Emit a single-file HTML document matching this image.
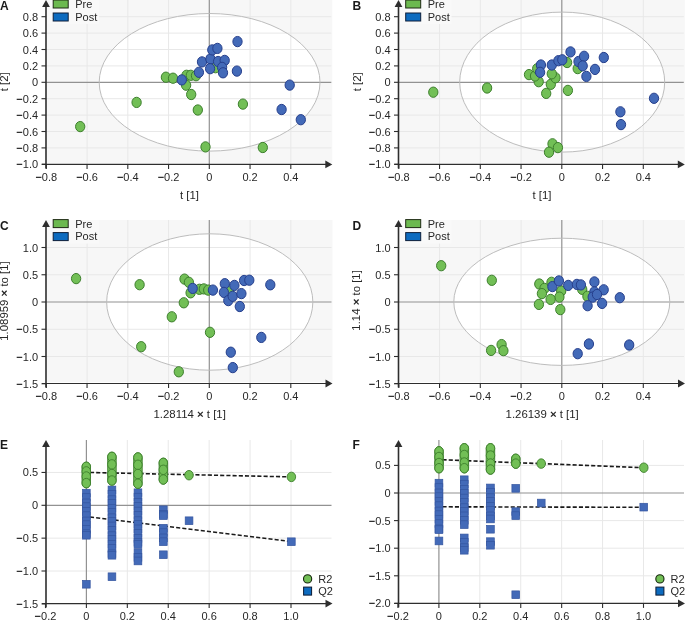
<!DOCTYPE html>
<html><head><meta charset="utf-8"><style>
html,body{margin:0;padding:0;background:#fff;width:685px;height:620px;overflow:hidden;}
svg{display:block;will-change:transform;}
text{font-family:"Liberation Sans", sans-serif;}
</style></head><body>
<svg width="685" height="620" viewBox="0 0 685 620" font-family='"Liberation Sans", sans-serif'>
<rect width="685" height="620" fill="#ffffff"/>
<rect x="47.2" y="0.0" width="285.10" height="162.90" fill="#f7f7f7"/>
<ellipse cx="209.60" cy="82.30" rx="110.4" ry="68.8" fill="#ffffff"/>
<line x1="87.05" y1="0.0" x2="87.05" y2="164.4" stroke="#e8e8e8" stroke-width="1"/>
<line x1="127.80" y1="0.0" x2="127.80" y2="164.4" stroke="#e8e8e8" stroke-width="1"/>
<line x1="168.55" y1="0.0" x2="168.55" y2="164.4" stroke="#e8e8e8" stroke-width="1"/>
<line x1="250.05" y1="0.0" x2="250.05" y2="164.4" stroke="#e8e8e8" stroke-width="1"/>
<line x1="290.80" y1="0.0" x2="290.80" y2="164.4" stroke="#e8e8e8" stroke-width="1"/>
<line x1="46.0" y1="147.90" x2="331.3" y2="147.90" stroke="#e8e8e8" stroke-width="1"/>
<line x1="46.0" y1="131.50" x2="331.3" y2="131.50" stroke="#e8e8e8" stroke-width="1"/>
<line x1="46.0" y1="115.10" x2="331.3" y2="115.10" stroke="#e8e8e8" stroke-width="1"/>
<line x1="46.0" y1="98.70" x2="331.3" y2="98.70" stroke="#e8e8e8" stroke-width="1"/>
<line x1="46.0" y1="65.90" x2="331.3" y2="65.90" stroke="#e8e8e8" stroke-width="1"/>
<line x1="46.0" y1="49.50" x2="331.3" y2="49.50" stroke="#e8e8e8" stroke-width="1"/>
<line x1="46.0" y1="33.10" x2="331.3" y2="33.10" stroke="#e8e8e8" stroke-width="1"/>
<line x1="46.0" y1="16.70" x2="331.3" y2="16.70" stroke="#e8e8e8" stroke-width="1"/>
<line x1="209.30" y1="0.0" x2="209.30" y2="164.4" stroke="#929292" stroke-width="1.2"/>
<line x1="46.0" y1="82.30" x2="331.3" y2="82.30" stroke="#929292" stroke-width="1.2"/>
<ellipse cx="209.60" cy="82.30" rx="110.4" ry="68.8" fill="none" stroke="#bdbdbd" stroke-width="1"/>
<rect x="47.0" y="0.0" width="52.00" height="24.00" fill="#f9f9f9"/>
<ellipse cx="80.2" cy="126.6" rx="4.65" ry="5.15" fill="#72bf56" stroke="#3d7f2d" stroke-width="1.0"/>
<ellipse cx="136.6" cy="102.4" rx="4.65" ry="5.15" fill="#72bf56" stroke="#3d7f2d" stroke-width="1.0"/>
<ellipse cx="165.9" cy="77.2" rx="4.65" ry="5.15" fill="#72bf56" stroke="#3d7f2d" stroke-width="1.0"/>
<ellipse cx="173.0" cy="78.2" rx="4.65" ry="5.15" fill="#72bf56" stroke="#3d7f2d" stroke-width="1.0"/>
<ellipse cx="186.5" cy="75.3" rx="4.65" ry="5.15" fill="#72bf56" stroke="#3d7f2d" stroke-width="1.0"/>
<ellipse cx="190.8" cy="75.3" rx="4.65" ry="5.15" fill="#72bf56" stroke="#3d7f2d" stroke-width="1.0"/>
<ellipse cx="196.0" cy="75.7" rx="4.65" ry="5.15" fill="#72bf56" stroke="#3d7f2d" stroke-width="1.0"/>
<ellipse cx="186.1" cy="85.2" rx="4.65" ry="5.15" fill="#72bf56" stroke="#3d7f2d" stroke-width="1.0"/>
<ellipse cx="191.2" cy="94.5" rx="4.65" ry="5.15" fill="#72bf56" stroke="#3d7f2d" stroke-width="1.0"/>
<ellipse cx="197.8" cy="110.0" rx="4.65" ry="5.15" fill="#72bf56" stroke="#3d7f2d" stroke-width="1.0"/>
<ellipse cx="205.5" cy="146.9" rx="4.65" ry="5.15" fill="#72bf56" stroke="#3d7f2d" stroke-width="1.0"/>
<ellipse cx="262.8" cy="147.5" rx="4.65" ry="5.15" fill="#72bf56" stroke="#3d7f2d" stroke-width="1.0"/>
<ellipse cx="242.9" cy="104.1" rx="4.65" ry="5.15" fill="#72bf56" stroke="#3d7f2d" stroke-width="1.0"/>
<ellipse cx="215.5" cy="67.7" rx="4.65" ry="5.15" fill="#72bf56" stroke="#3d7f2d" stroke-width="1.0"/>
<ellipse cx="181.8" cy="79.9" rx="4.65" ry="5.15" fill="#436ab8" stroke="#263f8c" stroke-width="1.0"/>
<ellipse cx="198.9" cy="72.3" rx="4.65" ry="5.15" fill="#436ab8" stroke="#263f8c" stroke-width="1.0"/>
<ellipse cx="202.0" cy="61.9" rx="4.65" ry="5.15" fill="#436ab8" stroke="#263f8c" stroke-width="1.0"/>
<ellipse cx="210.4" cy="59.0" rx="4.65" ry="5.15" fill="#436ab8" stroke="#263f8c" stroke-width="1.0"/>
<ellipse cx="210.1" cy="68.7" rx="4.65" ry="5.15" fill="#436ab8" stroke="#263f8c" stroke-width="1.0"/>
<ellipse cx="212.3" cy="49.9" rx="4.65" ry="5.15" fill="#436ab8" stroke="#263f8c" stroke-width="1.0"/>
<ellipse cx="217.4" cy="48.4" rx="4.65" ry="5.15" fill="#436ab8" stroke="#263f8c" stroke-width="1.0"/>
<ellipse cx="218.1" cy="61.5" rx="4.65" ry="5.15" fill="#436ab8" stroke="#263f8c" stroke-width="1.0"/>
<ellipse cx="224.7" cy="60.4" rx="4.65" ry="5.15" fill="#436ab8" stroke="#263f8c" stroke-width="1.0"/>
<ellipse cx="222.1" cy="67.4" rx="4.65" ry="5.15" fill="#436ab8" stroke="#263f8c" stroke-width="1.0"/>
<ellipse cx="223.0" cy="72.8" rx="4.65" ry="5.15" fill="#436ab8" stroke="#263f8c" stroke-width="1.0"/>
<ellipse cx="237.5" cy="41.6" rx="4.65" ry="5.15" fill="#436ab8" stroke="#263f8c" stroke-width="1.0"/>
<ellipse cx="236.9" cy="71.1" rx="4.65" ry="5.15" fill="#436ab8" stroke="#263f8c" stroke-width="1.0"/>
<ellipse cx="289.7" cy="85.1" rx="4.65" ry="5.15" fill="#436ab8" stroke="#263f8c" stroke-width="1.0"/>
<ellipse cx="281.6" cy="109.5" rx="4.65" ry="5.15" fill="#436ab8" stroke="#263f8c" stroke-width="1.0"/>
<ellipse cx="300.8" cy="119.7" rx="4.65" ry="5.15" fill="#436ab8" stroke="#263f8c" stroke-width="1.0"/>
<line x1="46.0" y1="5.0" x2="46.0" y2="168.4" stroke="#2e2e2e" stroke-width="1.6"/>
<path d="M42.1,7.0 L46.0,0.0 L49.9,7.0 Z" fill="#2e2e2e"/>
<line x1="42.0" y1="164.4" x2="327.3" y2="164.4" stroke="#2e2e2e" stroke-width="1.2"/>
<path d="M325.3,160.5 L332.3,164.4 L325.3,168.3 Z" fill="#2e2e2e"/>
<line x1="41.5" y1="164.30" x2="46.0" y2="164.30" stroke="#2e2e2e" stroke-width="1.1"/>
<text x="38.10" y="168.30" font-size="11" text-anchor="end" font-weight="normal" fill="#272727" ><tspan font-weight="bold">−</tspan>1.0</text>
<line x1="41.5" y1="147.90" x2="46.0" y2="147.90" stroke="#2e2e2e" stroke-width="1.1"/>
<text x="38.10" y="151.90" font-size="11" text-anchor="end" font-weight="normal" fill="#272727" ><tspan font-weight="bold">−</tspan>0.8</text>
<line x1="41.5" y1="131.50" x2="46.0" y2="131.50" stroke="#2e2e2e" stroke-width="1.1"/>
<text x="38.10" y="135.50" font-size="11" text-anchor="end" font-weight="normal" fill="#272727" ><tspan font-weight="bold">−</tspan>0.6</text>
<line x1="41.5" y1="115.10" x2="46.0" y2="115.10" stroke="#2e2e2e" stroke-width="1.1"/>
<text x="38.10" y="119.10" font-size="11" text-anchor="end" font-weight="normal" fill="#272727" ><tspan font-weight="bold">−</tspan>0.4</text>
<line x1="41.5" y1="98.70" x2="46.0" y2="98.70" stroke="#2e2e2e" stroke-width="1.1"/>
<text x="38.10" y="102.70" font-size="11" text-anchor="end" font-weight="normal" fill="#272727" ><tspan font-weight="bold">−</tspan>0.2</text>
<line x1="41.5" y1="82.30" x2="46.0" y2="82.30" stroke="#2e2e2e" stroke-width="1.1"/>
<text x="38.10" y="86.30" font-size="11" text-anchor="end" font-weight="normal" fill="#272727" >0</text>
<line x1="41.5" y1="65.90" x2="46.0" y2="65.90" stroke="#2e2e2e" stroke-width="1.1"/>
<text x="38.10" y="69.90" font-size="11" text-anchor="end" font-weight="normal" fill="#272727" >0.2</text>
<line x1="41.5" y1="49.50" x2="46.0" y2="49.50" stroke="#2e2e2e" stroke-width="1.1"/>
<text x="38.10" y="53.50" font-size="11" text-anchor="end" font-weight="normal" fill="#272727" >0.4</text>
<line x1="41.5" y1="33.10" x2="46.0" y2="33.10" stroke="#2e2e2e" stroke-width="1.1"/>
<text x="38.10" y="37.10" font-size="11" text-anchor="end" font-weight="normal" fill="#272727" >0.6</text>
<line x1="41.5" y1="16.70" x2="46.0" y2="16.70" stroke="#2e2e2e" stroke-width="1.1"/>
<text x="38.10" y="20.70" font-size="11" text-anchor="end" font-weight="normal" fill="#272727" >0.8</text>
<line x1="46.30" y1="164.4" x2="46.30" y2="168.9" stroke="#2e2e2e" stroke-width="1.1"/>
<text x="46.30" y="180.50" font-size="11" text-anchor="middle" font-weight="normal" fill="#272727" ><tspan font-weight="bold">−</tspan>0.8</text>
<line x1="87.05" y1="164.4" x2="87.05" y2="168.9" stroke="#2e2e2e" stroke-width="1.1"/>
<text x="87.05" y="180.50" font-size="11" text-anchor="middle" font-weight="normal" fill="#272727" ><tspan font-weight="bold">−</tspan>0.6</text>
<line x1="127.80" y1="164.4" x2="127.80" y2="168.9" stroke="#2e2e2e" stroke-width="1.1"/>
<text x="127.80" y="180.50" font-size="11" text-anchor="middle" font-weight="normal" fill="#272727" ><tspan font-weight="bold">−</tspan>0.4</text>
<line x1="168.55" y1="164.4" x2="168.55" y2="168.9" stroke="#2e2e2e" stroke-width="1.1"/>
<text x="168.55" y="180.50" font-size="11" text-anchor="middle" font-weight="normal" fill="#272727" ><tspan font-weight="bold">−</tspan>0.2</text>
<line x1="209.30" y1="164.4" x2="209.30" y2="168.9" stroke="#2e2e2e" stroke-width="1.1"/>
<text x="209.30" y="180.50" font-size="11" text-anchor="middle" font-weight="normal" fill="#272727" >0</text>
<line x1="250.05" y1="164.4" x2="250.05" y2="168.9" stroke="#2e2e2e" stroke-width="1.1"/>
<text x="250.05" y="180.50" font-size="11" text-anchor="middle" font-weight="normal" fill="#272727" >0.2</text>
<line x1="290.80" y1="164.4" x2="290.80" y2="168.9" stroke="#2e2e2e" stroke-width="1.1"/>
<text x="290.80" y="180.50" font-size="11" text-anchor="middle" font-weight="normal" fill="#272727" >0.4</text>
<rect x="53.2" y="0.0" width="15" height="8" fill="#6cb94f" stroke="#1e2a14" stroke-width="1"/>
<rect x="53.2" y="13.0" width="15" height="8" fill="#0d6bbf" stroke="#0e1f3a" stroke-width="1"/>
<text x="75.20" y="7.90" font-size="11" text-anchor="start" font-weight="normal" fill="#272727" >Pre</text>
<text x="75.20" y="20.60" font-size="11" text-anchor="start" font-weight="normal" fill="#272727" >Post</text>
<text x="0.00" y="9.90" font-size="12" text-anchor="start" font-weight="bold" fill="#1a1a1a" >A</text>
<text x="189.50" y="198.50" font-size="11.4" text-anchor="middle" font-weight="normal" fill="#272727" >t [1]</text>
<text x="8.4" y="81.8" font-size="11.4" text-anchor="middle" fill="#272727" transform="rotate(-90 8.4 81.8)">t [2]</text>
<rect x="399.7" y="0.0" width="285.10" height="162.90" fill="#f7f7f7"/>
<ellipse cx="562.20" cy="82.10" rx="102.5" ry="70.0" fill="#ffffff"/>
<line x1="439.55" y1="0.0" x2="439.55" y2="164.4" stroke="#e8e8e8" stroke-width="1"/>
<line x1="480.30" y1="0.0" x2="480.30" y2="164.4" stroke="#e8e8e8" stroke-width="1"/>
<line x1="521.05" y1="0.0" x2="521.05" y2="164.4" stroke="#e8e8e8" stroke-width="1"/>
<line x1="602.55" y1="0.0" x2="602.55" y2="164.4" stroke="#e8e8e8" stroke-width="1"/>
<line x1="643.30" y1="0.0" x2="643.30" y2="164.4" stroke="#e8e8e8" stroke-width="1"/>
<line x1="398.5" y1="147.90" x2="683.8" y2="147.90" stroke="#e8e8e8" stroke-width="1"/>
<line x1="398.5" y1="131.50" x2="683.8" y2="131.50" stroke="#e8e8e8" stroke-width="1"/>
<line x1="398.5" y1="115.10" x2="683.8" y2="115.10" stroke="#e8e8e8" stroke-width="1"/>
<line x1="398.5" y1="98.70" x2="683.8" y2="98.70" stroke="#e8e8e8" stroke-width="1"/>
<line x1="398.5" y1="65.90" x2="683.8" y2="65.90" stroke="#e8e8e8" stroke-width="1"/>
<line x1="398.5" y1="49.50" x2="683.8" y2="49.50" stroke="#e8e8e8" stroke-width="1"/>
<line x1="398.5" y1="33.10" x2="683.8" y2="33.10" stroke="#e8e8e8" stroke-width="1"/>
<line x1="398.5" y1="16.70" x2="683.8" y2="16.70" stroke="#e8e8e8" stroke-width="1"/>
<line x1="561.80" y1="0.0" x2="561.80" y2="164.4" stroke="#929292" stroke-width="1.2"/>
<line x1="398.5" y1="82.30" x2="683.8" y2="82.30" stroke="#929292" stroke-width="1.2"/>
<ellipse cx="562.20" cy="82.10" rx="102.5" ry="70.0" fill="none" stroke="#bdbdbd" stroke-width="1"/>
<rect x="399.5" y="0.0" width="52.00" height="24.00" fill="#f9f9f9"/>
<ellipse cx="433.3" cy="92.2" rx="4.65" ry="5.15" fill="#72bf56" stroke="#3d7f2d" stroke-width="1.0"/>
<ellipse cx="487.1" cy="88.0" rx="4.65" ry="5.15" fill="#72bf56" stroke="#3d7f2d" stroke-width="1.0"/>
<ellipse cx="552.5" cy="143.8" rx="4.65" ry="5.15" fill="#72bf56" stroke="#3d7f2d" stroke-width="1.0"/>
<ellipse cx="557.9" cy="147.6" rx="4.65" ry="5.15" fill="#72bf56" stroke="#3d7f2d" stroke-width="1.0"/>
<ellipse cx="549.0" cy="152.2" rx="4.65" ry="5.15" fill="#72bf56" stroke="#3d7f2d" stroke-width="1.0"/>
<ellipse cx="546.2" cy="93.4" rx="4.65" ry="5.15" fill="#72bf56" stroke="#3d7f2d" stroke-width="1.0"/>
<ellipse cx="567.9" cy="90.4" rx="4.65" ry="5.15" fill="#72bf56" stroke="#3d7f2d" stroke-width="1.0"/>
<ellipse cx="538.7" cy="81.7" rx="4.65" ry="5.15" fill="#72bf56" stroke="#3d7f2d" stroke-width="1.0"/>
<ellipse cx="529.0" cy="74.6" rx="4.65" ry="5.15" fill="#72bf56" stroke="#3d7f2d" stroke-width="1.0"/>
<ellipse cx="535.0" cy="76.0" rx="4.65" ry="5.15" fill="#72bf56" stroke="#3d7f2d" stroke-width="1.0"/>
<ellipse cx="550.8" cy="84.3" rx="4.65" ry="5.15" fill="#72bf56" stroke="#3d7f2d" stroke-width="1.0"/>
<ellipse cx="555.5" cy="77.8" rx="4.65" ry="5.15" fill="#72bf56" stroke="#3d7f2d" stroke-width="1.0"/>
<ellipse cx="551.8" cy="73.8" rx="4.65" ry="5.15" fill="#72bf56" stroke="#3d7f2d" stroke-width="1.0"/>
<ellipse cx="537.2" cy="68.7" rx="4.65" ry="5.15" fill="#72bf56" stroke="#3d7f2d" stroke-width="1.0"/>
<ellipse cx="567.1" cy="62.5" rx="4.65" ry="5.15" fill="#72bf56" stroke="#3d7f2d" stroke-width="1.0"/>
<ellipse cx="577.7" cy="68.6" rx="4.65" ry="5.15" fill="#72bf56" stroke="#3d7f2d" stroke-width="1.0"/>
<ellipse cx="540.9" cy="65.0" rx="4.65" ry="5.15" fill="#436ab8" stroke="#263f8c" stroke-width="1.0"/>
<ellipse cx="540.1" cy="72.3" rx="4.65" ry="5.15" fill="#436ab8" stroke="#263f8c" stroke-width="1.0"/>
<ellipse cx="551.8" cy="65.0" rx="4.65" ry="5.15" fill="#436ab8" stroke="#263f8c" stroke-width="1.0"/>
<ellipse cx="558.4" cy="60.7" rx="4.65" ry="5.15" fill="#436ab8" stroke="#263f8c" stroke-width="1.0"/>
<ellipse cx="562.3" cy="59.8" rx="4.65" ry="5.15" fill="#436ab8" stroke="#263f8c" stroke-width="1.0"/>
<ellipse cx="570.5" cy="51.9" rx="4.65" ry="5.15" fill="#436ab8" stroke="#263f8c" stroke-width="1.0"/>
<ellipse cx="578.5" cy="61.5" rx="4.65" ry="5.15" fill="#436ab8" stroke="#263f8c" stroke-width="1.0"/>
<ellipse cx="584.1" cy="56.3" rx="4.65" ry="5.15" fill="#436ab8" stroke="#263f8c" stroke-width="1.0"/>
<ellipse cx="582.7" cy="65.9" rx="4.65" ry="5.15" fill="#436ab8" stroke="#263f8c" stroke-width="1.0"/>
<ellipse cx="586.4" cy="76.4" rx="4.65" ry="5.15" fill="#436ab8" stroke="#263f8c" stroke-width="1.0"/>
<ellipse cx="595.0" cy="69.4" rx="4.65" ry="5.15" fill="#436ab8" stroke="#263f8c" stroke-width="1.0"/>
<ellipse cx="603.8" cy="57.5" rx="4.65" ry="5.15" fill="#436ab8" stroke="#263f8c" stroke-width="1.0"/>
<ellipse cx="654.0" cy="98.3" rx="4.65" ry="5.15" fill="#436ab8" stroke="#263f8c" stroke-width="1.0"/>
<ellipse cx="620.4" cy="111.8" rx="4.65" ry="5.15" fill="#436ab8" stroke="#263f8c" stroke-width="1.0"/>
<ellipse cx="621.0" cy="124.6" rx="4.65" ry="5.15" fill="#436ab8" stroke="#263f8c" stroke-width="1.0"/>
<line x1="398.5" y1="5.0" x2="398.5" y2="168.4" stroke="#2e2e2e" stroke-width="1.6"/>
<path d="M394.6,7.0 L398.5,0.0 L402.4,7.0 Z" fill="#2e2e2e"/>
<line x1="394.5" y1="164.4" x2="679.8" y2="164.4" stroke="#2e2e2e" stroke-width="1.2"/>
<path d="M677.8,160.5 L684.8,164.4 L677.8,168.3 Z" fill="#2e2e2e"/>
<line x1="394.0" y1="164.30" x2="398.5" y2="164.30" stroke="#2e2e2e" stroke-width="1.1"/>
<text x="390.60" y="168.30" font-size="11" text-anchor="end" font-weight="normal" fill="#272727" ><tspan font-weight="bold">−</tspan>1.0</text>
<line x1="394.0" y1="147.90" x2="398.5" y2="147.90" stroke="#2e2e2e" stroke-width="1.1"/>
<text x="390.60" y="151.90" font-size="11" text-anchor="end" font-weight="normal" fill="#272727" ><tspan font-weight="bold">−</tspan>0.8</text>
<line x1="394.0" y1="131.50" x2="398.5" y2="131.50" stroke="#2e2e2e" stroke-width="1.1"/>
<text x="390.60" y="135.50" font-size="11" text-anchor="end" font-weight="normal" fill="#272727" ><tspan font-weight="bold">−</tspan>0.6</text>
<line x1="394.0" y1="115.10" x2="398.5" y2="115.10" stroke="#2e2e2e" stroke-width="1.1"/>
<text x="390.60" y="119.10" font-size="11" text-anchor="end" font-weight="normal" fill="#272727" ><tspan font-weight="bold">−</tspan>0.4</text>
<line x1="394.0" y1="98.70" x2="398.5" y2="98.70" stroke="#2e2e2e" stroke-width="1.1"/>
<text x="390.60" y="102.70" font-size="11" text-anchor="end" font-weight="normal" fill="#272727" ><tspan font-weight="bold">−</tspan>0.2</text>
<line x1="394.0" y1="82.30" x2="398.5" y2="82.30" stroke="#2e2e2e" stroke-width="1.1"/>
<text x="390.60" y="86.30" font-size="11" text-anchor="end" font-weight="normal" fill="#272727" >0</text>
<line x1="394.0" y1="65.90" x2="398.5" y2="65.90" stroke="#2e2e2e" stroke-width="1.1"/>
<text x="390.60" y="69.90" font-size="11" text-anchor="end" font-weight="normal" fill="#272727" >0.2</text>
<line x1="394.0" y1="49.50" x2="398.5" y2="49.50" stroke="#2e2e2e" stroke-width="1.1"/>
<text x="390.60" y="53.50" font-size="11" text-anchor="end" font-weight="normal" fill="#272727" >0.4</text>
<line x1="394.0" y1="33.10" x2="398.5" y2="33.10" stroke="#2e2e2e" stroke-width="1.1"/>
<text x="390.60" y="37.10" font-size="11" text-anchor="end" font-weight="normal" fill="#272727" >0.6</text>
<line x1="394.0" y1="16.70" x2="398.5" y2="16.70" stroke="#2e2e2e" stroke-width="1.1"/>
<text x="390.60" y="20.70" font-size="11" text-anchor="end" font-weight="normal" fill="#272727" >0.8</text>
<line x1="398.80" y1="164.4" x2="398.80" y2="168.9" stroke="#2e2e2e" stroke-width="1.1"/>
<text x="398.80" y="180.50" font-size="11" text-anchor="middle" font-weight="normal" fill="#272727" ><tspan font-weight="bold">−</tspan>0.8</text>
<line x1="439.55" y1="164.4" x2="439.55" y2="168.9" stroke="#2e2e2e" stroke-width="1.1"/>
<text x="439.55" y="180.50" font-size="11" text-anchor="middle" font-weight="normal" fill="#272727" ><tspan font-weight="bold">−</tspan>0.6</text>
<line x1="480.30" y1="164.4" x2="480.30" y2="168.9" stroke="#2e2e2e" stroke-width="1.1"/>
<text x="480.30" y="180.50" font-size="11" text-anchor="middle" font-weight="normal" fill="#272727" ><tspan font-weight="bold">−</tspan>0.4</text>
<line x1="521.05" y1="164.4" x2="521.05" y2="168.9" stroke="#2e2e2e" stroke-width="1.1"/>
<text x="521.05" y="180.50" font-size="11" text-anchor="middle" font-weight="normal" fill="#272727" ><tspan font-weight="bold">−</tspan>0.2</text>
<line x1="561.80" y1="164.4" x2="561.80" y2="168.9" stroke="#2e2e2e" stroke-width="1.1"/>
<text x="561.80" y="180.50" font-size="11" text-anchor="middle" font-weight="normal" fill="#272727" >0</text>
<line x1="602.55" y1="164.4" x2="602.55" y2="168.9" stroke="#2e2e2e" stroke-width="1.1"/>
<text x="602.55" y="180.50" font-size="11" text-anchor="middle" font-weight="normal" fill="#272727" >0.2</text>
<line x1="643.30" y1="164.4" x2="643.30" y2="168.9" stroke="#2e2e2e" stroke-width="1.1"/>
<text x="643.30" y="180.50" font-size="11" text-anchor="middle" font-weight="normal" fill="#272727" >0.4</text>
<rect x="405.7" y="0.0" width="15" height="8" fill="#6cb94f" stroke="#1e2a14" stroke-width="1"/>
<rect x="405.7" y="13.0" width="15" height="8" fill="#0d6bbf" stroke="#0e1f3a" stroke-width="1"/>
<text x="427.70" y="7.90" font-size="11" text-anchor="start" font-weight="normal" fill="#272727" >Pre</text>
<text x="427.70" y="20.60" font-size="11" text-anchor="start" font-weight="normal" fill="#272727" >Post</text>
<text x="352.50" y="9.90" font-size="12" text-anchor="start" font-weight="bold" fill="#1a1a1a" >B</text>
<text x="542.00" y="198.50" font-size="11.4" text-anchor="middle" font-weight="normal" fill="#272727" >t [1]</text>
<text x="360.9" y="81.8" font-size="11.4" text-anchor="middle" fill="#272727" transform="rotate(-90 360.9 81.8)">t [2]</text>
<rect x="47.2" y="220.0" width="285.30" height="162.00" fill="#f7f7f7"/>
<ellipse cx="209.75" cy="302.00" rx="103.1" ry="68.2" fill="#ffffff"/>
<line x1="87.05" y1="220.0" x2="87.05" y2="383.5" stroke="#e8e8e8" stroke-width="1"/>
<line x1="127.80" y1="220.0" x2="127.80" y2="383.5" stroke="#e8e8e8" stroke-width="1"/>
<line x1="168.55" y1="220.0" x2="168.55" y2="383.5" stroke="#e8e8e8" stroke-width="1"/>
<line x1="250.05" y1="220.0" x2="250.05" y2="383.5" stroke="#e8e8e8" stroke-width="1"/>
<line x1="290.80" y1="220.0" x2="290.80" y2="383.5" stroke="#e8e8e8" stroke-width="1"/>
<line x1="46.0" y1="356.50" x2="331.5" y2="356.50" stroke="#e8e8e8" stroke-width="1"/>
<line x1="46.0" y1="329.25" x2="331.5" y2="329.25" stroke="#e8e8e8" stroke-width="1"/>
<line x1="46.0" y1="274.75" x2="331.5" y2="274.75" stroke="#e8e8e8" stroke-width="1"/>
<line x1="46.0" y1="247.50" x2="331.5" y2="247.50" stroke="#e8e8e8" stroke-width="1"/>
<line x1="209.30" y1="220.0" x2="209.30" y2="383.5" stroke="#929292" stroke-width="1.2"/>
<line x1="46.0" y1="302.00" x2="331.5" y2="302.00" stroke="#929292" stroke-width="1.2"/>
<ellipse cx="209.75" cy="302.00" rx="103.1" ry="68.2" fill="none" stroke="#bdbdbd" stroke-width="1"/>
<rect x="47.0" y="220.0" width="52.00" height="23.60" fill="#f9f9f9"/>
<ellipse cx="76.1" cy="278.6" rx="4.65" ry="5.15" fill="#72bf56" stroke="#3d7f2d" stroke-width="1.0"/>
<ellipse cx="139.6" cy="284.7" rx="4.65" ry="5.15" fill="#72bf56" stroke="#3d7f2d" stroke-width="1.0"/>
<ellipse cx="141.2" cy="346.7" rx="4.65" ry="5.15" fill="#72bf56" stroke="#3d7f2d" stroke-width="1.0"/>
<ellipse cx="178.8" cy="371.8" rx="4.65" ry="5.15" fill="#72bf56" stroke="#3d7f2d" stroke-width="1.0"/>
<ellipse cx="171.8" cy="316.8" rx="4.65" ry="5.15" fill="#72bf56" stroke="#3d7f2d" stroke-width="1.0"/>
<ellipse cx="210.0" cy="332.3" rx="4.65" ry="5.15" fill="#72bf56" stroke="#3d7f2d" stroke-width="1.0"/>
<ellipse cx="183.8" cy="302.8" rx="4.65" ry="5.15" fill="#72bf56" stroke="#3d7f2d" stroke-width="1.0"/>
<ellipse cx="184.5" cy="279.1" rx="4.65" ry="5.15" fill="#72bf56" stroke="#3d7f2d" stroke-width="1.0"/>
<ellipse cx="188.9" cy="282.3" rx="4.65" ry="5.15" fill="#72bf56" stroke="#3d7f2d" stroke-width="1.0"/>
<ellipse cx="190.6" cy="292.8" rx="4.65" ry="5.15" fill="#72bf56" stroke="#3d7f2d" stroke-width="1.0"/>
<ellipse cx="199.4" cy="289.3" rx="4.65" ry="5.15" fill="#72bf56" stroke="#3d7f2d" stroke-width="1.0"/>
<ellipse cx="203.8" cy="288.9" rx="4.65" ry="5.15" fill="#72bf56" stroke="#3d7f2d" stroke-width="1.0"/>
<ellipse cx="208.2" cy="290.1" rx="4.65" ry="5.15" fill="#72bf56" stroke="#3d7f2d" stroke-width="1.0"/>
<ellipse cx="229.2" cy="290.1" rx="4.65" ry="5.15" fill="#72bf56" stroke="#3d7f2d" stroke-width="1.0"/>
<ellipse cx="192.7" cy="288.4" rx="4.65" ry="5.15" fill="#436ab8" stroke="#263f8c" stroke-width="1.0"/>
<ellipse cx="212.9" cy="290.1" rx="4.65" ry="5.15" fill="#436ab8" stroke="#263f8c" stroke-width="1.0"/>
<ellipse cx="224.8" cy="283.7" rx="4.65" ry="5.15" fill="#436ab8" stroke="#263f8c" stroke-width="1.0"/>
<ellipse cx="223.9" cy="292.4" rx="4.65" ry="5.15" fill="#436ab8" stroke="#263f8c" stroke-width="1.0"/>
<ellipse cx="228.3" cy="300.6" rx="4.65" ry="5.15" fill="#436ab8" stroke="#263f8c" stroke-width="1.0"/>
<ellipse cx="234.4" cy="285.4" rx="4.65" ry="5.15" fill="#436ab8" stroke="#263f8c" stroke-width="1.0"/>
<ellipse cx="232.7" cy="296.3" rx="4.65" ry="5.15" fill="#436ab8" stroke="#263f8c" stroke-width="1.0"/>
<ellipse cx="241.4" cy="293.6" rx="4.65" ry="5.15" fill="#436ab8" stroke="#263f8c" stroke-width="1.0"/>
<ellipse cx="244.1" cy="280.5" rx="4.65" ry="5.15" fill="#436ab8" stroke="#263f8c" stroke-width="1.0"/>
<ellipse cx="249.3" cy="280.2" rx="4.65" ry="5.15" fill="#436ab8" stroke="#263f8c" stroke-width="1.0"/>
<ellipse cx="239.8" cy="306.5" rx="4.65" ry="5.15" fill="#436ab8" stroke="#263f8c" stroke-width="1.0"/>
<ellipse cx="270.3" cy="284.8" rx="4.65" ry="5.15" fill="#436ab8" stroke="#263f8c" stroke-width="1.0"/>
<ellipse cx="261.3" cy="337.4" rx="4.65" ry="5.15" fill="#436ab8" stroke="#263f8c" stroke-width="1.0"/>
<ellipse cx="230.8" cy="352.2" rx="4.65" ry="5.15" fill="#436ab8" stroke="#263f8c" stroke-width="1.0"/>
<ellipse cx="232.8" cy="367.6" rx="4.65" ry="5.15" fill="#436ab8" stroke="#263f8c" stroke-width="1.0"/>
<line x1="46.0" y1="225.0" x2="46.0" y2="387.5" stroke="#2e2e2e" stroke-width="1.6"/>
<path d="M42.1,227.0 L46.0,220.0 L49.9,227.0 Z" fill="#2e2e2e"/>
<line x1="42.0" y1="383.5" x2="327.5" y2="383.5" stroke="#2e2e2e" stroke-width="1.2"/>
<path d="M325.5,379.6 L332.5,383.5 L325.5,387.4 Z" fill="#2e2e2e"/>
<line x1="41.5" y1="383.75" x2="46.0" y2="383.75" stroke="#2e2e2e" stroke-width="1.1"/>
<text x="38.10" y="387.75" font-size="11" text-anchor="end" font-weight="normal" fill="#272727" ><tspan font-weight="bold">−</tspan>1.5</text>
<line x1="41.5" y1="356.50" x2="46.0" y2="356.50" stroke="#2e2e2e" stroke-width="1.1"/>
<text x="38.10" y="360.50" font-size="11" text-anchor="end" font-weight="normal" fill="#272727" ><tspan font-weight="bold">−</tspan>1.0</text>
<line x1="41.5" y1="329.25" x2="46.0" y2="329.25" stroke="#2e2e2e" stroke-width="1.1"/>
<text x="38.10" y="333.25" font-size="11" text-anchor="end" font-weight="normal" fill="#272727" ><tspan font-weight="bold">−</tspan>0.5</text>
<line x1="41.5" y1="302.00" x2="46.0" y2="302.00" stroke="#2e2e2e" stroke-width="1.1"/>
<text x="38.10" y="306.00" font-size="11" text-anchor="end" font-weight="normal" fill="#272727" >0</text>
<line x1="41.5" y1="274.75" x2="46.0" y2="274.75" stroke="#2e2e2e" stroke-width="1.1"/>
<text x="38.10" y="278.75" font-size="11" text-anchor="end" font-weight="normal" fill="#272727" >0.5</text>
<line x1="41.5" y1="247.50" x2="46.0" y2="247.50" stroke="#2e2e2e" stroke-width="1.1"/>
<text x="38.10" y="251.50" font-size="11" text-anchor="end" font-weight="normal" fill="#272727" >1.0</text>
<line x1="46.30" y1="383.5" x2="46.30" y2="388.0" stroke="#2e2e2e" stroke-width="1.1"/>
<text x="46.30" y="399.90" font-size="11" text-anchor="middle" font-weight="normal" fill="#272727" ><tspan font-weight="bold">−</tspan>0.8</text>
<line x1="87.05" y1="383.5" x2="87.05" y2="388.0" stroke="#2e2e2e" stroke-width="1.1"/>
<text x="87.05" y="399.90" font-size="11" text-anchor="middle" font-weight="normal" fill="#272727" ><tspan font-weight="bold">−</tspan>0.6</text>
<line x1="127.80" y1="383.5" x2="127.80" y2="388.0" stroke="#2e2e2e" stroke-width="1.1"/>
<text x="127.80" y="399.90" font-size="11" text-anchor="middle" font-weight="normal" fill="#272727" ><tspan font-weight="bold">−</tspan>0.4</text>
<line x1="168.55" y1="383.5" x2="168.55" y2="388.0" stroke="#2e2e2e" stroke-width="1.1"/>
<text x="168.55" y="399.90" font-size="11" text-anchor="middle" font-weight="normal" fill="#272727" ><tspan font-weight="bold">−</tspan>0.2</text>
<line x1="209.30" y1="383.5" x2="209.30" y2="388.0" stroke="#2e2e2e" stroke-width="1.1"/>
<text x="209.30" y="399.90" font-size="11" text-anchor="middle" font-weight="normal" fill="#272727" >0</text>
<line x1="250.05" y1="383.5" x2="250.05" y2="388.0" stroke="#2e2e2e" stroke-width="1.1"/>
<text x="250.05" y="399.90" font-size="11" text-anchor="middle" font-weight="normal" fill="#272727" >0.2</text>
<line x1="290.80" y1="383.5" x2="290.80" y2="388.0" stroke="#2e2e2e" stroke-width="1.1"/>
<text x="290.80" y="399.90" font-size="11" text-anchor="middle" font-weight="normal" fill="#272727" >0.4</text>
<rect x="53.2" y="219.6" width="15" height="8" fill="#6cb94f" stroke="#1e2a14" stroke-width="1"/>
<rect x="53.2" y="232.6" width="15" height="8" fill="#0d6bbf" stroke="#0e1f3a" stroke-width="1"/>
<text x="75.20" y="227.50" font-size="11" text-anchor="start" font-weight="normal" fill="#272727" >Pre</text>
<text x="75.20" y="240.20" font-size="11" text-anchor="start" font-weight="normal" fill="#272727" >Post</text>
<text x="0.00" y="230.00" font-size="12" text-anchor="start" font-weight="bold" fill="#1a1a1a" >C</text>
<text x="189.70" y="418.00" font-size="11.4" text-anchor="middle" font-weight="normal" fill="#272727" >1.28114 <tspan font-weight="bold">×</tspan> t [1]</text>
<text x="7.5" y="301.0" font-size="11.4" text-anchor="middle" fill="#272727" transform="rotate(-90 7.5 301.0)">1.08959 <tspan font-weight="bold">×</tspan> to [1]</text>
<rect x="399.7" y="220.0" width="285.30" height="162.00" fill="#f7f7f7"/>
<ellipse cx="561.80" cy="301.80" rx="108.0" ry="63.6" fill="#ffffff"/>
<line x1="439.55" y1="220.0" x2="439.55" y2="383.5" stroke="#e8e8e8" stroke-width="1"/>
<line x1="480.30" y1="220.0" x2="480.30" y2="383.5" stroke="#e8e8e8" stroke-width="1"/>
<line x1="521.05" y1="220.0" x2="521.05" y2="383.5" stroke="#e8e8e8" stroke-width="1"/>
<line x1="602.55" y1="220.0" x2="602.55" y2="383.5" stroke="#e8e8e8" stroke-width="1"/>
<line x1="643.30" y1="220.0" x2="643.30" y2="383.5" stroke="#e8e8e8" stroke-width="1"/>
<line x1="398.5" y1="356.50" x2="684.0" y2="356.50" stroke="#e8e8e8" stroke-width="1"/>
<line x1="398.5" y1="329.25" x2="684.0" y2="329.25" stroke="#e8e8e8" stroke-width="1"/>
<line x1="398.5" y1="274.75" x2="684.0" y2="274.75" stroke="#e8e8e8" stroke-width="1"/>
<line x1="398.5" y1="247.50" x2="684.0" y2="247.50" stroke="#e8e8e8" stroke-width="1"/>
<line x1="561.80" y1="220.0" x2="561.80" y2="383.5" stroke="#929292" stroke-width="1.2"/>
<line x1="398.5" y1="302.00" x2="684.0" y2="302.00" stroke="#929292" stroke-width="1.2"/>
<ellipse cx="561.80" cy="301.80" rx="108.0" ry="63.6" fill="none" stroke="#bdbdbd" stroke-width="1"/>
<rect x="399.5" y="220.0" width="52.00" height="23.60" fill="#f9f9f9"/>
<ellipse cx="441.2" cy="265.7" rx="4.65" ry="5.15" fill="#72bf56" stroke="#3d7f2d" stroke-width="1.0"/>
<ellipse cx="491.8" cy="280.3" rx="4.65" ry="5.15" fill="#72bf56" stroke="#3d7f2d" stroke-width="1.0"/>
<ellipse cx="491.1" cy="350.4" rx="4.65" ry="5.15" fill="#72bf56" stroke="#3d7f2d" stroke-width="1.0"/>
<ellipse cx="501.6" cy="344.6" rx="4.65" ry="5.15" fill="#72bf56" stroke="#3d7f2d" stroke-width="1.0"/>
<ellipse cx="503.4" cy="350.7" rx="4.65" ry="5.15" fill="#72bf56" stroke="#3d7f2d" stroke-width="1.0"/>
<ellipse cx="539.3" cy="284.0" rx="4.65" ry="5.15" fill="#72bf56" stroke="#3d7f2d" stroke-width="1.0"/>
<ellipse cx="544.5" cy="288.4" rx="4.65" ry="5.15" fill="#72bf56" stroke="#3d7f2d" stroke-width="1.0"/>
<ellipse cx="541.9" cy="293.6" rx="4.65" ry="5.15" fill="#72bf56" stroke="#3d7f2d" stroke-width="1.0"/>
<ellipse cx="551.5" cy="282.3" rx="4.65" ry="5.15" fill="#72bf56" stroke="#3d7f2d" stroke-width="1.0"/>
<ellipse cx="561.2" cy="291.0" rx="4.65" ry="5.15" fill="#72bf56" stroke="#3d7f2d" stroke-width="1.0"/>
<ellipse cx="559.4" cy="297.1" rx="4.65" ry="5.15" fill="#72bf56" stroke="#3d7f2d" stroke-width="1.0"/>
<ellipse cx="550.6" cy="299.4" rx="4.65" ry="5.15" fill="#72bf56" stroke="#3d7f2d" stroke-width="1.0"/>
<ellipse cx="538.9" cy="304.4" rx="4.65" ry="5.15" fill="#72bf56" stroke="#3d7f2d" stroke-width="1.0"/>
<ellipse cx="560.3" cy="309.6" rx="4.65" ry="5.15" fill="#72bf56" stroke="#3d7f2d" stroke-width="1.0"/>
<ellipse cx="582.2" cy="289.3" rx="4.65" ry="5.15" fill="#72bf56" stroke="#3d7f2d" stroke-width="1.0"/>
<ellipse cx="587.4" cy="296.3" rx="4.65" ry="5.15" fill="#72bf56" stroke="#3d7f2d" stroke-width="1.0"/>
<ellipse cx="552.4" cy="286.6" rx="4.65" ry="5.15" fill="#436ab8" stroke="#263f8c" stroke-width="1.0"/>
<ellipse cx="558.9" cy="280.9" rx="4.65" ry="5.15" fill="#436ab8" stroke="#263f8c" stroke-width="1.0"/>
<ellipse cx="568.2" cy="285.4" rx="4.65" ry="5.15" fill="#436ab8" stroke="#263f8c" stroke-width="1.0"/>
<ellipse cx="576.9" cy="284.4" rx="4.65" ry="5.15" fill="#436ab8" stroke="#263f8c" stroke-width="1.0"/>
<ellipse cx="580.9" cy="284.9" rx="4.65" ry="5.15" fill="#436ab8" stroke="#263f8c" stroke-width="1.0"/>
<ellipse cx="594.4" cy="281.9" rx="4.65" ry="5.15" fill="#436ab8" stroke="#263f8c" stroke-width="1.0"/>
<ellipse cx="594.4" cy="291.9" rx="4.65" ry="5.15" fill="#436ab8" stroke="#263f8c" stroke-width="1.0"/>
<ellipse cx="603.7" cy="289.8" rx="4.65" ry="5.15" fill="#436ab8" stroke="#263f8c" stroke-width="1.0"/>
<ellipse cx="592.7" cy="297.1" rx="4.65" ry="5.15" fill="#436ab8" stroke="#263f8c" stroke-width="1.0"/>
<ellipse cx="597.0" cy="294.5" rx="4.65" ry="5.15" fill="#436ab8" stroke="#263f8c" stroke-width="1.0"/>
<ellipse cx="587.6" cy="305.7" rx="4.65" ry="5.15" fill="#436ab8" stroke="#263f8c" stroke-width="1.0"/>
<ellipse cx="602.1" cy="303.4" rx="4.65" ry="5.15" fill="#436ab8" stroke="#263f8c" stroke-width="1.0"/>
<ellipse cx="619.8" cy="297.7" rx="4.65" ry="5.15" fill="#436ab8" stroke="#263f8c" stroke-width="1.0"/>
<ellipse cx="577.7" cy="353.7" rx="4.65" ry="5.15" fill="#436ab8" stroke="#263f8c" stroke-width="1.0"/>
<ellipse cx="588.9" cy="344.0" rx="4.65" ry="5.15" fill="#436ab8" stroke="#263f8c" stroke-width="1.0"/>
<ellipse cx="629.2" cy="345.0" rx="4.65" ry="5.15" fill="#436ab8" stroke="#263f8c" stroke-width="1.0"/>
<line x1="398.5" y1="225.0" x2="398.5" y2="387.5" stroke="#2e2e2e" stroke-width="1.6"/>
<path d="M394.6,227.0 L398.5,220.0 L402.4,227.0 Z" fill="#2e2e2e"/>
<line x1="394.5" y1="383.5" x2="680.0" y2="383.5" stroke="#2e2e2e" stroke-width="1.2"/>
<path d="M678.0,379.6 L685.0,383.5 L678.0,387.4 Z" fill="#2e2e2e"/>
<line x1="394.0" y1="383.75" x2="398.5" y2="383.75" stroke="#2e2e2e" stroke-width="1.1"/>
<text x="390.60" y="387.75" font-size="11" text-anchor="end" font-weight="normal" fill="#272727" ><tspan font-weight="bold">−</tspan>1.5</text>
<line x1="394.0" y1="356.50" x2="398.5" y2="356.50" stroke="#2e2e2e" stroke-width="1.1"/>
<text x="390.60" y="360.50" font-size="11" text-anchor="end" font-weight="normal" fill="#272727" ><tspan font-weight="bold">−</tspan>1.0</text>
<line x1="394.0" y1="329.25" x2="398.5" y2="329.25" stroke="#2e2e2e" stroke-width="1.1"/>
<text x="390.60" y="333.25" font-size="11" text-anchor="end" font-weight="normal" fill="#272727" ><tspan font-weight="bold">−</tspan>0.5</text>
<line x1="394.0" y1="302.00" x2="398.5" y2="302.00" stroke="#2e2e2e" stroke-width="1.1"/>
<text x="390.60" y="306.00" font-size="11" text-anchor="end" font-weight="normal" fill="#272727" >0</text>
<line x1="394.0" y1="274.75" x2="398.5" y2="274.75" stroke="#2e2e2e" stroke-width="1.1"/>
<text x="390.60" y="278.75" font-size="11" text-anchor="end" font-weight="normal" fill="#272727" >0.5</text>
<line x1="394.0" y1="247.50" x2="398.5" y2="247.50" stroke="#2e2e2e" stroke-width="1.1"/>
<text x="390.60" y="251.50" font-size="11" text-anchor="end" font-weight="normal" fill="#272727" >1.0</text>
<line x1="398.80" y1="383.5" x2="398.80" y2="388.0" stroke="#2e2e2e" stroke-width="1.1"/>
<text x="398.80" y="399.90" font-size="11" text-anchor="middle" font-weight="normal" fill="#272727" ><tspan font-weight="bold">−</tspan>0.8</text>
<line x1="439.55" y1="383.5" x2="439.55" y2="388.0" stroke="#2e2e2e" stroke-width="1.1"/>
<text x="439.55" y="399.90" font-size="11" text-anchor="middle" font-weight="normal" fill="#272727" ><tspan font-weight="bold">−</tspan>0.6</text>
<line x1="480.30" y1="383.5" x2="480.30" y2="388.0" stroke="#2e2e2e" stroke-width="1.1"/>
<text x="480.30" y="399.90" font-size="11" text-anchor="middle" font-weight="normal" fill="#272727" ><tspan font-weight="bold">−</tspan>0.4</text>
<line x1="521.05" y1="383.5" x2="521.05" y2="388.0" stroke="#2e2e2e" stroke-width="1.1"/>
<text x="521.05" y="399.90" font-size="11" text-anchor="middle" font-weight="normal" fill="#272727" ><tspan font-weight="bold">−</tspan>0.2</text>
<line x1="561.80" y1="383.5" x2="561.80" y2="388.0" stroke="#2e2e2e" stroke-width="1.1"/>
<text x="561.80" y="399.90" font-size="11" text-anchor="middle" font-weight="normal" fill="#272727" >0</text>
<line x1="602.55" y1="383.5" x2="602.55" y2="388.0" stroke="#2e2e2e" stroke-width="1.1"/>
<text x="602.55" y="399.90" font-size="11" text-anchor="middle" font-weight="normal" fill="#272727" >0.2</text>
<line x1="643.30" y1="383.5" x2="643.30" y2="388.0" stroke="#2e2e2e" stroke-width="1.1"/>
<text x="643.30" y="399.90" font-size="11" text-anchor="middle" font-weight="normal" fill="#272727" >0.4</text>
<rect x="405.7" y="219.6" width="15" height="8" fill="#6cb94f" stroke="#1e2a14" stroke-width="1"/>
<rect x="405.7" y="232.6" width="15" height="8" fill="#0d6bbf" stroke="#0e1f3a" stroke-width="1"/>
<text x="427.70" y="227.50" font-size="11" text-anchor="start" font-weight="normal" fill="#272727" >Pre</text>
<text x="427.70" y="240.20" font-size="11" text-anchor="start" font-weight="normal" fill="#272727" >Post</text>
<text x="352.50" y="230.00" font-size="12" text-anchor="start" font-weight="bold" fill="#1a1a1a" >D</text>
<text x="542.20" y="418.00" font-size="11.4" text-anchor="middle" font-weight="normal" fill="#272727" >1.26139 <tspan font-weight="bold">×</tspan> t [1]</text>
<text x="360.0" y="300.4" font-size="11.4" text-anchor="middle" fill="#272727" transform="rotate(-90 360.0 300.4)">1.14 <tspan font-weight="bold">×</tspan> to [1]</text>
<line x1="127.32" y1="440.0" x2="127.32" y2="603.6" stroke="#e8e8e8" stroke-width="1"/>
<line x1="168.24" y1="440.0" x2="168.24" y2="603.6" stroke="#e8e8e8" stroke-width="1"/>
<line x1="209.16" y1="440.0" x2="209.16" y2="603.6" stroke="#e8e8e8" stroke-width="1"/>
<line x1="250.08" y1="440.0" x2="250.08" y2="603.6" stroke="#e8e8e8" stroke-width="1"/>
<line x1="291.00" y1="440.0" x2="291.00" y2="603.6" stroke="#e8e8e8" stroke-width="1"/>
<line x1="46.0" y1="571.00" x2="331.5" y2="571.00" stroke="#e8e8e8" stroke-width="1"/>
<line x1="46.0" y1="538.15" x2="331.5" y2="538.15" stroke="#e8e8e8" stroke-width="1"/>
<line x1="46.0" y1="472.45" x2="331.5" y2="472.45" stroke="#e8e8e8" stroke-width="1"/>
<line x1="86.40" y1="440.0" x2="86.40" y2="603.6" stroke="#929292" stroke-width="1.2"/>
<line x1="46.0" y1="505.30" x2="331.5" y2="505.30" stroke="#929292" stroke-width="1.2"/>
<line x1="86.4" y1="472.4" x2="291.4" y2="476.9" stroke="#1a1a1a" stroke-width="1.6" stroke-dasharray="4.1,2.1" stroke-dashoffset="2.6"/>
<line x1="86.4" y1="516.6" x2="291.4" y2="541.6" stroke="#1a1a1a" stroke-width="1.6" stroke-dasharray="4.1,2.1" stroke-dashoffset="2.6"/>
<rect x="82.5" y="489.3" width="7.7" height="7.7" fill="#436ab8" stroke="#34559f" stroke-width="0.7"/>
<rect x="82.5" y="493.7" width="7.7" height="7.7" fill="#436ab8" stroke="#34559f" stroke-width="0.7"/>
<rect x="82.5" y="499.0" width="7.7" height="7.7" fill="#436ab8" stroke="#34559f" stroke-width="0.7"/>
<rect x="82.5" y="502.8" width="7.7" height="7.7" fill="#436ab8" stroke="#34559f" stroke-width="0.7"/>
<rect x="82.5" y="507.6" width="7.7" height="7.7" fill="#436ab8" stroke="#34559f" stroke-width="0.7"/>
<rect x="82.5" y="511.8" width="7.7" height="7.7" fill="#436ab8" stroke="#34559f" stroke-width="0.7"/>
<rect x="82.5" y="517.1" width="7.7" height="7.7" fill="#436ab8" stroke="#34559f" stroke-width="0.7"/>
<rect x="82.5" y="520.8" width="7.7" height="7.7" fill="#436ab8" stroke="#34559f" stroke-width="0.7"/>
<rect x="82.5" y="525.4" width="7.7" height="7.7" fill="#436ab8" stroke="#34559f" stroke-width="0.7"/>
<rect x="82.5" y="529.8" width="7.7" height="7.7" fill="#436ab8" stroke="#34559f" stroke-width="0.7"/>
<rect x="82.5" y="531.4" width="7.7" height="7.7" fill="#436ab8" stroke="#34559f" stroke-width="0.7"/>
<rect x="82.5" y="580.4" width="7.7" height="7.7" fill="#436ab8" stroke="#34559f" stroke-width="0.7"/>
<rect x="108.1" y="486.1" width="7.7" height="7.7" fill="#436ab8" stroke="#34559f" stroke-width="0.7"/>
<rect x="108.1" y="490.5" width="7.7" height="7.7" fill="#436ab8" stroke="#34559f" stroke-width="0.7"/>
<rect x="108.1" y="495.8" width="7.7" height="7.7" fill="#436ab8" stroke="#34559f" stroke-width="0.7"/>
<rect x="108.1" y="499.6" width="7.7" height="7.7" fill="#436ab8" stroke="#34559f" stroke-width="0.7"/>
<rect x="108.1" y="504.4" width="7.7" height="7.7" fill="#436ab8" stroke="#34559f" stroke-width="0.7"/>
<rect x="108.1" y="508.5" width="7.7" height="7.7" fill="#436ab8" stroke="#34559f" stroke-width="0.7"/>
<rect x="108.1" y="513.9" width="7.7" height="7.7" fill="#436ab8" stroke="#34559f" stroke-width="0.7"/>
<rect x="108.1" y="517.5" width="7.7" height="7.7" fill="#436ab8" stroke="#34559f" stroke-width="0.7"/>
<rect x="108.1" y="522.1" width="7.7" height="7.7" fill="#436ab8" stroke="#34559f" stroke-width="0.7"/>
<rect x="108.1" y="526.5" width="7.7" height="7.7" fill="#436ab8" stroke="#34559f" stroke-width="0.7"/>
<rect x="108.1" y="531.8" width="7.7" height="7.7" fill="#436ab8" stroke="#34559f" stroke-width="0.7"/>
<rect x="108.1" y="535.6" width="7.7" height="7.7" fill="#436ab8" stroke="#34559f" stroke-width="0.7"/>
<rect x="108.1" y="540.4" width="7.7" height="7.7" fill="#436ab8" stroke="#34559f" stroke-width="0.7"/>
<rect x="108.1" y="544.5" width="7.7" height="7.7" fill="#436ab8" stroke="#34559f" stroke-width="0.7"/>
<rect x="108.1" y="549.9" width="7.7" height="7.7" fill="#436ab8" stroke="#34559f" stroke-width="0.7"/>
<rect x="108.1" y="551.4" width="7.7" height="7.7" fill="#436ab8" stroke="#34559f" stroke-width="0.7"/>
<rect x="108.1" y="572.9" width="7.7" height="7.7" fill="#436ab8" stroke="#34559f" stroke-width="0.7"/>
<rect x="134.1" y="488.9" width="7.7" height="7.7" fill="#436ab8" stroke="#34559f" stroke-width="0.7"/>
<rect x="134.1" y="493.3" width="7.7" height="7.7" fill="#436ab8" stroke="#34559f" stroke-width="0.7"/>
<rect x="134.1" y="498.6" width="7.7" height="7.7" fill="#436ab8" stroke="#34559f" stroke-width="0.7"/>
<rect x="134.1" y="502.4" width="7.7" height="7.7" fill="#436ab8" stroke="#34559f" stroke-width="0.7"/>
<rect x="134.1" y="507.2" width="7.7" height="7.7" fill="#436ab8" stroke="#34559f" stroke-width="0.7"/>
<rect x="134.1" y="511.4" width="7.7" height="7.7" fill="#436ab8" stroke="#34559f" stroke-width="0.7"/>
<rect x="134.1" y="516.8" width="7.7" height="7.7" fill="#436ab8" stroke="#34559f" stroke-width="0.7"/>
<rect x="134.1" y="520.4" width="7.7" height="7.7" fill="#436ab8" stroke="#34559f" stroke-width="0.7"/>
<rect x="134.1" y="525.0" width="7.7" height="7.7" fill="#436ab8" stroke="#34559f" stroke-width="0.7"/>
<rect x="134.1" y="529.4" width="7.7" height="7.7" fill="#436ab8" stroke="#34559f" stroke-width="0.7"/>
<rect x="134.1" y="534.6" width="7.7" height="7.7" fill="#436ab8" stroke="#34559f" stroke-width="0.7"/>
<rect x="134.1" y="538.4" width="7.7" height="7.7" fill="#436ab8" stroke="#34559f" stroke-width="0.7"/>
<rect x="134.1" y="540.6" width="7.7" height="7.7" fill="#436ab8" stroke="#34559f" stroke-width="0.7"/>
<rect x="134.1" y="549.1" width="7.7" height="7.7" fill="#436ab8" stroke="#34559f" stroke-width="0.7"/>
<rect x="134.1" y="553.5" width="7.7" height="7.7" fill="#436ab8" stroke="#34559f" stroke-width="0.7"/>
<rect x="134.1" y="557.1" width="7.7" height="7.7" fill="#436ab8" stroke="#34559f" stroke-width="0.7"/>
<rect x="159.5" y="505.9" width="7.7" height="7.7" fill="#436ab8" stroke="#34559f" stroke-width="0.7"/>
<rect x="159.5" y="510.4" width="7.7" height="7.7" fill="#436ab8" stroke="#34559f" stroke-width="0.7"/>
<rect x="159.5" y="511.8" width="7.7" height="7.7" fill="#436ab8" stroke="#34559f" stroke-width="0.7"/>
<rect x="159.5" y="524.4" width="7.7" height="7.7" fill="#436ab8" stroke="#34559f" stroke-width="0.7"/>
<rect x="159.5" y="528.8" width="7.7" height="7.7" fill="#436ab8" stroke="#34559f" stroke-width="0.7"/>
<rect x="159.5" y="534.0" width="7.7" height="7.7" fill="#436ab8" stroke="#34559f" stroke-width="0.7"/>
<rect x="159.5" y="537.9" width="7.7" height="7.7" fill="#436ab8" stroke="#34559f" stroke-width="0.7"/>
<rect x="159.5" y="550.9" width="7.7" height="7.7" fill="#436ab8" stroke="#34559f" stroke-width="0.7"/>
<rect x="185.2" y="516.9" width="7.7" height="7.7" fill="#436ab8" stroke="#34559f" stroke-width="0.7"/>
<rect x="287.5" y="537.9" width="7.7" height="7.7" fill="#436ab8" stroke="#34559f" stroke-width="0.7"/>
<rect x="82.0" y="462.1" width="8.5" height="25.8" rx="4.25" ry="4.75" fill="#72bf56" stroke="#3d7f2d" stroke-width="0.9"/>
<rect x="107.7" y="452.1" width="8.5" height="33.1" rx="4.25" ry="4.75" fill="#72bf56" stroke="#3d7f2d" stroke-width="0.9"/>
<rect x="133.7" y="452.8" width="8.5" height="35.7" rx="4.25" ry="4.75" fill="#72bf56" stroke="#3d7f2d" stroke-width="0.9"/>
<rect x="159.1" y="458.1" width="8.5" height="26.1" rx="4.25" ry="4.75" fill="#72bf56" stroke="#3d7f2d" stroke-width="0.9"/>
<ellipse cx="86.3" cy="466.8" rx="4.25" ry="4.75" fill="#72bf56" stroke="#3d7f2d" stroke-width="0.9"/>
<ellipse cx="86.3" cy="471.4" rx="4.25" ry="4.75" fill="#72bf56" stroke="#3d7f2d" stroke-width="0.9"/>
<ellipse cx="86.3" cy="476.5" rx="4.25" ry="4.75" fill="#72bf56" stroke="#3d7f2d" stroke-width="0.9"/>
<ellipse cx="86.3" cy="483.1" rx="4.25" ry="4.75" fill="#72bf56" stroke="#3d7f2d" stroke-width="0.9"/>
<ellipse cx="111.9" cy="456.9" rx="4.25" ry="4.75" fill="#72bf56" stroke="#3d7f2d" stroke-width="0.9"/>
<ellipse cx="111.9" cy="464.4" rx="4.25" ry="4.75" fill="#72bf56" stroke="#3d7f2d" stroke-width="0.9"/>
<ellipse cx="111.9" cy="474.0" rx="4.25" ry="4.75" fill="#72bf56" stroke="#3d7f2d" stroke-width="0.9"/>
<ellipse cx="111.9" cy="480.5" rx="4.25" ry="4.75" fill="#72bf56" stroke="#3d7f2d" stroke-width="0.9"/>
<ellipse cx="137.9" cy="457.5" rx="4.25" ry="4.75" fill="#72bf56" stroke="#3d7f2d" stroke-width="0.9"/>
<ellipse cx="137.9" cy="464.8" rx="4.25" ry="4.75" fill="#72bf56" stroke="#3d7f2d" stroke-width="0.9"/>
<ellipse cx="137.9" cy="474.0" rx="4.25" ry="4.75" fill="#72bf56" stroke="#3d7f2d" stroke-width="0.9"/>
<ellipse cx="137.9" cy="483.7" rx="4.25" ry="4.75" fill="#72bf56" stroke="#3d7f2d" stroke-width="0.9"/>
<ellipse cx="163.3" cy="462.9" rx="4.25" ry="4.75" fill="#72bf56" stroke="#3d7f2d" stroke-width="0.9"/>
<ellipse cx="163.3" cy="469.8" rx="4.25" ry="4.75" fill="#72bf56" stroke="#3d7f2d" stroke-width="0.9"/>
<ellipse cx="163.3" cy="479.5" rx="4.25" ry="4.75" fill="#72bf56" stroke="#3d7f2d" stroke-width="0.9"/>
<ellipse cx="189.0" cy="475.2" rx="4.25" ry="4.75" fill="#72bf56" stroke="#3d7f2d" stroke-width="0.9"/>
<ellipse cx="291.4" cy="476.9" rx="4.25" ry="4.75" fill="#72bf56" stroke="#3d7f2d" stroke-width="0.9"/>
<line x1="46.0" y1="445.0" x2="46.0" y2="607.6" stroke="#2e2e2e" stroke-width="1.6"/>
<path d="M42.1,447.0 L46.0,440.0 L49.9,447.0 Z" fill="#2e2e2e"/>
<line x1="42.0" y1="603.6" x2="327.5" y2="603.6" stroke="#2e2e2e" stroke-width="1.2"/>
<path d="M325.5,599.7 L332.5,603.6 L325.5,607.5 Z" fill="#2e2e2e"/>
<line x1="41.5" y1="603.85" x2="46.0" y2="603.85" stroke="#2e2e2e" stroke-width="1.1"/>
<text x="38.10" y="607.85" font-size="11" text-anchor="end" font-weight="normal" fill="#272727" ><tspan font-weight="bold">−</tspan>1.5</text>
<line x1="41.5" y1="571.00" x2="46.0" y2="571.00" stroke="#2e2e2e" stroke-width="1.1"/>
<text x="38.10" y="575.00" font-size="11" text-anchor="end" font-weight="normal" fill="#272727" ><tspan font-weight="bold">−</tspan>1.0</text>
<line x1="41.5" y1="538.15" x2="46.0" y2="538.15" stroke="#2e2e2e" stroke-width="1.1"/>
<text x="38.10" y="542.15" font-size="11" text-anchor="end" font-weight="normal" fill="#272727" ><tspan font-weight="bold">−</tspan>0.5</text>
<line x1="41.5" y1="505.30" x2="46.0" y2="505.30" stroke="#2e2e2e" stroke-width="1.1"/>
<text x="38.10" y="509.30" font-size="11" text-anchor="end" font-weight="normal" fill="#272727" >0</text>
<line x1="41.5" y1="472.45" x2="46.0" y2="472.45" stroke="#2e2e2e" stroke-width="1.1"/>
<text x="38.10" y="476.45" font-size="11" text-anchor="end" font-weight="normal" fill="#272727" >0.5</text>
<line x1="45.48" y1="603.6" x2="45.48" y2="608.1" stroke="#2e2e2e" stroke-width="1.1"/>
<text x="45.48" y="619.80" font-size="11" text-anchor="middle" font-weight="normal" fill="#272727" ><tspan font-weight="bold">−</tspan>0.2</text>
<line x1="86.40" y1="603.6" x2="86.40" y2="608.1" stroke="#2e2e2e" stroke-width="1.1"/>
<text x="86.40" y="619.80" font-size="11" text-anchor="middle" font-weight="normal" fill="#272727" >0</text>
<line x1="127.32" y1="603.6" x2="127.32" y2="608.1" stroke="#2e2e2e" stroke-width="1.1"/>
<text x="127.32" y="619.80" font-size="11" text-anchor="middle" font-weight="normal" fill="#272727" >0.2</text>
<line x1="168.24" y1="603.6" x2="168.24" y2="608.1" stroke="#2e2e2e" stroke-width="1.1"/>
<text x="168.24" y="619.80" font-size="11" text-anchor="middle" font-weight="normal" fill="#272727" >0.4</text>
<line x1="209.16" y1="603.6" x2="209.16" y2="608.1" stroke="#2e2e2e" stroke-width="1.1"/>
<text x="209.16" y="619.80" font-size="11" text-anchor="middle" font-weight="normal" fill="#272727" >0.6</text>
<line x1="250.08" y1="603.6" x2="250.08" y2="608.1" stroke="#2e2e2e" stroke-width="1.1"/>
<text x="250.08" y="619.80" font-size="11" text-anchor="middle" font-weight="normal" fill="#272727" >0.8</text>
<line x1="291.00" y1="603.6" x2="291.00" y2="608.1" stroke="#2e2e2e" stroke-width="1.1"/>
<text x="291.00" y="619.80" font-size="11" text-anchor="middle" font-weight="normal" fill="#272727" >1.0</text>
<text x="0.00" y="449.00" font-size="12" text-anchor="start" font-weight="bold" fill="#1a1a1a" >E</text>
<rect x="302.4" y="573.4" width="28.1" height="23" fill="#ffffff"/>
<circle cx="307.6" cy="578.9" r="4.1" fill="#72bf56" stroke="#16260e" stroke-width="1.1"/>
<rect x="303.6" y="587.1" width="8.0" height="8.0" fill="#0d6bbf" stroke="#0c1a33" stroke-width="1.0"/>
<text x="318.20" y="582.90" font-size="11" text-anchor="start" font-weight="normal" fill="#272727" >R2</text>
<text x="318.20" y="595.30" font-size="11" text-anchor="start" font-weight="normal" fill="#272727" >Q2</text>
<line x1="479.82" y1="440.0" x2="479.82" y2="603.4" stroke="#e8e8e8" stroke-width="1"/>
<line x1="520.74" y1="440.0" x2="520.74" y2="603.4" stroke="#e8e8e8" stroke-width="1"/>
<line x1="561.66" y1="440.0" x2="561.66" y2="603.4" stroke="#e8e8e8" stroke-width="1"/>
<line x1="602.58" y1="440.0" x2="602.58" y2="603.4" stroke="#e8e8e8" stroke-width="1"/>
<line x1="643.50" y1="440.0" x2="643.50" y2="603.4" stroke="#e8e8e8" stroke-width="1"/>
<line x1="398.5" y1="575.80" x2="684.0" y2="575.80" stroke="#e8e8e8" stroke-width="1"/>
<line x1="398.5" y1="548.20" x2="684.0" y2="548.20" stroke="#e8e8e8" stroke-width="1"/>
<line x1="398.5" y1="520.60" x2="684.0" y2="520.60" stroke="#e8e8e8" stroke-width="1"/>
<line x1="398.5" y1="465.40" x2="684.0" y2="465.40" stroke="#e8e8e8" stroke-width="1"/>
<line x1="438.90" y1="440.0" x2="438.90" y2="603.4" stroke="#929292" stroke-width="1.2"/>
<line x1="398.5" y1="493.00" x2="684.0" y2="493.00" stroke="#929292" stroke-width="1.2"/>
<line x1="438.9" y1="459.6" x2="643.8" y2="467.7" stroke="#1a1a1a" stroke-width="1.6" stroke-dasharray="4.1,2.1" stroke-dashoffset="2.6"/>
<line x1="438.9" y1="506.8" x2="643.8" y2="507.3" stroke="#1a1a1a" stroke-width="1.6" stroke-dasharray="4.1,2.1" stroke-dashoffset="2.6"/>
<rect x="435.1" y="479.3" width="7.7" height="7.7" fill="#436ab8" stroke="#34559f" stroke-width="0.7"/>
<rect x="435.1" y="483.7" width="7.7" height="7.7" fill="#436ab8" stroke="#34559f" stroke-width="0.7"/>
<rect x="435.1" y="489.0" width="7.7" height="7.7" fill="#436ab8" stroke="#34559f" stroke-width="0.7"/>
<rect x="435.1" y="492.8" width="7.7" height="7.7" fill="#436ab8" stroke="#34559f" stroke-width="0.7"/>
<rect x="435.1" y="497.6" width="7.7" height="7.7" fill="#436ab8" stroke="#34559f" stroke-width="0.7"/>
<rect x="435.1" y="501.8" width="7.7" height="7.7" fill="#436ab8" stroke="#34559f" stroke-width="0.7"/>
<rect x="435.1" y="507.1" width="7.7" height="7.7" fill="#436ab8" stroke="#34559f" stroke-width="0.7"/>
<rect x="435.1" y="510.8" width="7.7" height="7.7" fill="#436ab8" stroke="#34559f" stroke-width="0.7"/>
<rect x="435.1" y="515.4" width="7.7" height="7.7" fill="#436ab8" stroke="#34559f" stroke-width="0.7"/>
<rect x="435.1" y="519.8" width="7.7" height="7.7" fill="#436ab8" stroke="#34559f" stroke-width="0.7"/>
<rect x="435.1" y="525.0" width="7.7" height="7.7" fill="#436ab8" stroke="#34559f" stroke-width="0.7"/>
<rect x="435.1" y="525.8" width="7.7" height="7.7" fill="#436ab8" stroke="#34559f" stroke-width="0.7"/>
<rect x="435.1" y="537.1" width="7.7" height="7.7" fill="#436ab8" stroke="#34559f" stroke-width="0.7"/>
<rect x="460.4" y="475.9" width="7.7" height="7.7" fill="#436ab8" stroke="#34559f" stroke-width="0.7"/>
<rect x="460.4" y="480.3" width="7.7" height="7.7" fill="#436ab8" stroke="#34559f" stroke-width="0.7"/>
<rect x="460.4" y="485.6" width="7.7" height="7.7" fill="#436ab8" stroke="#34559f" stroke-width="0.7"/>
<rect x="460.4" y="489.4" width="7.7" height="7.7" fill="#436ab8" stroke="#34559f" stroke-width="0.7"/>
<rect x="460.4" y="494.2" width="7.7" height="7.7" fill="#436ab8" stroke="#34559f" stroke-width="0.7"/>
<rect x="460.4" y="498.4" width="7.7" height="7.7" fill="#436ab8" stroke="#34559f" stroke-width="0.7"/>
<rect x="460.4" y="503.8" width="7.7" height="7.7" fill="#436ab8" stroke="#34559f" stroke-width="0.7"/>
<rect x="460.4" y="507.4" width="7.7" height="7.7" fill="#436ab8" stroke="#34559f" stroke-width="0.7"/>
<rect x="460.4" y="512.0" width="7.7" height="7.7" fill="#436ab8" stroke="#34559f" stroke-width="0.7"/>
<rect x="460.4" y="516.4" width="7.7" height="7.7" fill="#436ab8" stroke="#34559f" stroke-width="0.7"/>
<rect x="460.4" y="520.8" width="7.7" height="7.7" fill="#436ab8" stroke="#34559f" stroke-width="0.7"/>
<rect x="460.4" y="534.1" width="7.7" height="7.7" fill="#436ab8" stroke="#34559f" stroke-width="0.7"/>
<rect x="460.4" y="538.5" width="7.7" height="7.7" fill="#436ab8" stroke="#34559f" stroke-width="0.7"/>
<rect x="460.4" y="543.8" width="7.7" height="7.7" fill="#436ab8" stroke="#34559f" stroke-width="0.7"/>
<rect x="460.4" y="546.4" width="7.7" height="7.7" fill="#436ab8" stroke="#34559f" stroke-width="0.7"/>
<rect x="486.6" y="484.1" width="7.7" height="7.7" fill="#436ab8" stroke="#34559f" stroke-width="0.7"/>
<rect x="486.6" y="488.5" width="7.7" height="7.7" fill="#436ab8" stroke="#34559f" stroke-width="0.7"/>
<rect x="486.6" y="493.8" width="7.7" height="7.7" fill="#436ab8" stroke="#34559f" stroke-width="0.7"/>
<rect x="486.6" y="497.6" width="7.7" height="7.7" fill="#436ab8" stroke="#34559f" stroke-width="0.7"/>
<rect x="486.6" y="502.4" width="7.7" height="7.7" fill="#436ab8" stroke="#34559f" stroke-width="0.7"/>
<rect x="486.6" y="506.6" width="7.7" height="7.7" fill="#436ab8" stroke="#34559f" stroke-width="0.7"/>
<rect x="486.6" y="512.0" width="7.7" height="7.7" fill="#436ab8" stroke="#34559f" stroke-width="0.7"/>
<rect x="486.6" y="515.1" width="7.7" height="7.7" fill="#436ab8" stroke="#34559f" stroke-width="0.7"/>
<rect x="486.6" y="525.4" width="7.7" height="7.7" fill="#436ab8" stroke="#34559f" stroke-width="0.7"/>
<rect x="486.6" y="537.8" width="7.7" height="7.7" fill="#436ab8" stroke="#34559f" stroke-width="0.7"/>
<rect x="486.6" y="541.4" width="7.7" height="7.7" fill="#436ab8" stroke="#34559f" stroke-width="0.7"/>
<rect x="511.9" y="484.5" width="7.7" height="7.7" fill="#436ab8" stroke="#34559f" stroke-width="0.7"/>
<rect x="511.9" y="507.8" width="7.7" height="7.7" fill="#436ab8" stroke="#34559f" stroke-width="0.7"/>
<rect x="511.9" y="511.8" width="7.7" height="7.7" fill="#436ab8" stroke="#34559f" stroke-width="0.7"/>
<rect x="511.9" y="590.9" width="7.7" height="7.7" fill="#436ab8" stroke="#34559f" stroke-width="0.7"/>
<rect x="537.4" y="499.2" width="7.7" height="7.7" fill="#436ab8" stroke="#34559f" stroke-width="0.7"/>
<rect x="639.9" y="503.3" width="7.7" height="7.7" fill="#436ab8" stroke="#34559f" stroke-width="0.7"/>
<rect x="434.8" y="446.6" width="8.5" height="26.3" rx="4.25" ry="4.75" fill="#72bf56" stroke="#3d7f2d" stroke-width="0.9"/>
<rect x="460.1" y="443.6" width="8.5" height="29.4" rx="4.25" ry="4.75" fill="#72bf56" stroke="#3d7f2d" stroke-width="0.9"/>
<rect x="486.2" y="443.6" width="8.5" height="30.7" rx="4.25" ry="4.75" fill="#72bf56" stroke="#3d7f2d" stroke-width="0.9"/>
<rect x="511.5" y="454.1" width="8.5" height="14.3" rx="4.25" ry="4.75" fill="#72bf56" stroke="#3d7f2d" stroke-width="0.9"/>
<ellipse cx="439.0" cy="451.4" rx="4.25" ry="4.75" fill="#72bf56" stroke="#3d7f2d" stroke-width="0.9"/>
<ellipse cx="439.0" cy="457.0" rx="4.25" ry="4.75" fill="#72bf56" stroke="#3d7f2d" stroke-width="0.9"/>
<ellipse cx="439.0" cy="463.0" rx="4.25" ry="4.75" fill="#72bf56" stroke="#3d7f2d" stroke-width="0.9"/>
<ellipse cx="439.0" cy="468.2" rx="4.25" ry="4.75" fill="#72bf56" stroke="#3d7f2d" stroke-width="0.9"/>
<ellipse cx="464.3" cy="448.3" rx="4.25" ry="4.75" fill="#72bf56" stroke="#3d7f2d" stroke-width="0.9"/>
<ellipse cx="464.3" cy="455.0" rx="4.25" ry="4.75" fill="#72bf56" stroke="#3d7f2d" stroke-width="0.9"/>
<ellipse cx="464.3" cy="462.5" rx="4.25" ry="4.75" fill="#72bf56" stroke="#3d7f2d" stroke-width="0.9"/>
<ellipse cx="464.3" cy="468.2" rx="4.25" ry="4.75" fill="#72bf56" stroke="#3d7f2d" stroke-width="0.9"/>
<ellipse cx="490.5" cy="448.3" rx="4.25" ry="4.75" fill="#72bf56" stroke="#3d7f2d" stroke-width="0.9"/>
<ellipse cx="490.5" cy="455.5" rx="4.25" ry="4.75" fill="#72bf56" stroke="#3d7f2d" stroke-width="0.9"/>
<ellipse cx="490.5" cy="463.5" rx="4.25" ry="4.75" fill="#72bf56" stroke="#3d7f2d" stroke-width="0.9"/>
<ellipse cx="490.5" cy="469.5" rx="4.25" ry="4.75" fill="#72bf56" stroke="#3d7f2d" stroke-width="0.9"/>
<ellipse cx="515.8" cy="458.8" rx="4.25" ry="4.75" fill="#72bf56" stroke="#3d7f2d" stroke-width="0.9"/>
<ellipse cx="515.8" cy="463.6" rx="4.25" ry="4.75" fill="#72bf56" stroke="#3d7f2d" stroke-width="0.9"/>
<ellipse cx="541.2" cy="463.6" rx="4.25" ry="4.75" fill="#72bf56" stroke="#3d7f2d" stroke-width="0.9"/>
<ellipse cx="643.8" cy="467.7" rx="4.25" ry="4.75" fill="#72bf56" stroke="#3d7f2d" stroke-width="0.9"/>
<line x1="398.5" y1="445.0" x2="398.5" y2="607.4" stroke="#2e2e2e" stroke-width="1.6"/>
<path d="M394.6,447.0 L398.5,440.0 L402.4,447.0 Z" fill="#2e2e2e"/>
<line x1="394.5" y1="603.4" x2="680.0" y2="603.4" stroke="#2e2e2e" stroke-width="1.2"/>
<path d="M678.0,599.5 L685.0,603.4 L678.0,607.3 Z" fill="#2e2e2e"/>
<line x1="394.0" y1="603.40" x2="398.5" y2="603.40" stroke="#2e2e2e" stroke-width="1.1"/>
<text x="390.60" y="607.40" font-size="11" text-anchor="end" font-weight="normal" fill="#272727" ><tspan font-weight="bold">−</tspan>2.0</text>
<line x1="394.0" y1="575.80" x2="398.5" y2="575.80" stroke="#2e2e2e" stroke-width="1.1"/>
<text x="390.60" y="579.80" font-size="11" text-anchor="end" font-weight="normal" fill="#272727" ><tspan font-weight="bold">−</tspan>1.5</text>
<line x1="394.0" y1="548.20" x2="398.5" y2="548.20" stroke="#2e2e2e" stroke-width="1.1"/>
<text x="390.60" y="552.20" font-size="11" text-anchor="end" font-weight="normal" fill="#272727" ><tspan font-weight="bold">−</tspan>1.0</text>
<line x1="394.0" y1="520.60" x2="398.5" y2="520.60" stroke="#2e2e2e" stroke-width="1.1"/>
<text x="390.60" y="524.60" font-size="11" text-anchor="end" font-weight="normal" fill="#272727" ><tspan font-weight="bold">−</tspan>0.5</text>
<line x1="394.0" y1="493.00" x2="398.5" y2="493.00" stroke="#2e2e2e" stroke-width="1.1"/>
<text x="390.60" y="497.00" font-size="11" text-anchor="end" font-weight="normal" fill="#272727" >0</text>
<line x1="394.0" y1="465.40" x2="398.5" y2="465.40" stroke="#2e2e2e" stroke-width="1.1"/>
<text x="390.60" y="469.40" font-size="11" text-anchor="end" font-weight="normal" fill="#272727" >0.5</text>
<line x1="397.98" y1="603.4" x2="397.98" y2="607.9" stroke="#2e2e2e" stroke-width="1.1"/>
<text x="397.98" y="619.80" font-size="11" text-anchor="middle" font-weight="normal" fill="#272727" ><tspan font-weight="bold">−</tspan>0.2</text>
<line x1="438.90" y1="603.4" x2="438.90" y2="607.9" stroke="#2e2e2e" stroke-width="1.1"/>
<text x="438.90" y="619.80" font-size="11" text-anchor="middle" font-weight="normal" fill="#272727" >0</text>
<line x1="479.82" y1="603.4" x2="479.82" y2="607.9" stroke="#2e2e2e" stroke-width="1.1"/>
<text x="479.82" y="619.80" font-size="11" text-anchor="middle" font-weight="normal" fill="#272727" >0.2</text>
<line x1="520.74" y1="603.4" x2="520.74" y2="607.9" stroke="#2e2e2e" stroke-width="1.1"/>
<text x="520.74" y="619.80" font-size="11" text-anchor="middle" font-weight="normal" fill="#272727" >0.4</text>
<line x1="561.66" y1="603.4" x2="561.66" y2="607.9" stroke="#2e2e2e" stroke-width="1.1"/>
<text x="561.66" y="619.80" font-size="11" text-anchor="middle" font-weight="normal" fill="#272727" >0.6</text>
<line x1="602.58" y1="603.4" x2="602.58" y2="607.9" stroke="#2e2e2e" stroke-width="1.1"/>
<text x="602.58" y="619.80" font-size="11" text-anchor="middle" font-weight="normal" fill="#272727" >0.8</text>
<line x1="643.50" y1="603.4" x2="643.50" y2="607.9" stroke="#2e2e2e" stroke-width="1.1"/>
<text x="643.50" y="619.80" font-size="11" text-anchor="middle" font-weight="normal" fill="#272727" >1.0</text>
<text x="352.50" y="449.00" font-size="12" text-anchor="start" font-weight="bold" fill="#1a1a1a" >F</text>
<rect x="654.7" y="573.4" width="28.3" height="23" fill="#ffffff"/>
<circle cx="659.9" cy="578.9" r="4.1" fill="#72bf56" stroke="#16260e" stroke-width="1.1"/>
<rect x="655.9" y="587.1" width="8.0" height="8.0" fill="#0d6bbf" stroke="#0c1a33" stroke-width="1.0"/>
<text x="670.50" y="582.90" font-size="11" text-anchor="start" font-weight="normal" fill="#272727" >R2</text>
<text x="670.50" y="595.30" font-size="11" text-anchor="start" font-weight="normal" fill="#272727" >Q2</text>
</svg>
</body></html>
